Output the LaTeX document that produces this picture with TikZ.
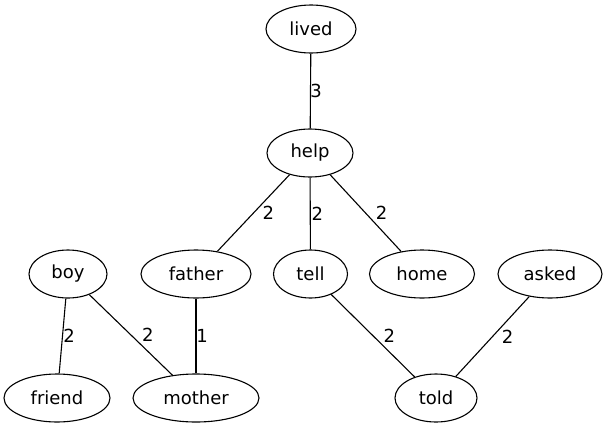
\documentclass[tikz,border=0pt]{standalone}
\usepackage{fontspec}
\setmainfont{DejaVu Sans}
\usetikzlibrary{shapes.geometric}
\tikzset{
  word/.style={ellipse, draw, line width=1.1pt, inner sep=0pt, minimum height=48pt, font=\fontsize{18}{20}\selectfont},
  edge/.style={line width=1.1pt},
  lbl/.style={font=\fontsize{18}{20}\selectfont, inner sep=0pt}
}
\begin{document}
\begin{tikzpicture}[x=1pt,y=-1pt]
\fill[white] (0,0) rectangle (608,429);
\useasboundingbox (0,0) rectangle (608,429);
\node[word, minimum width=90pt] (lived) at (311,29) {lived};
\node[word, minimum width=86pt] (help) at (310,153) {help};
\node[word, minimum width=78pt] (boy) at (68,274) {boy};
\node[word, minimum width=110pt] (father) at (196,274) {father};
\node[word, minimum width=74pt] (tell) at (310.5,274) {tell};
\node[word, minimum width=105pt] (home) at (422,274) {home};
\node[word, minimum width=104pt] (asked) at (550,274) {asked};
\node[word, minimum width=106pt] (friend) at (57,398) {friend};
\node[word, minimum width=126pt] (mother) at (196,398) {mother};
\node[word, minimum width=82pt] (told) at (436,398) {told};
\draw[edge] (lived) -- node[lbl, xshift=5.5pt] {3} (help);
\draw[edge] (help) -- node[lbl, xshift=15pt] {2} (father);
\draw[edge] (help) -- node[lbl, xshift=7pt] {2} (tell);
\draw[edge] (help) -- node[lbl, xshift=16pt] {2} (home);
\draw[edge] (boy) -- node[lbl, xshift=6.5pt] {2} (friend);
\draw[edge] (boy) -- node[lbl, xshift=17pt] {2} (mother);
\draw[edge] (father) -- node[lbl, xshift=6pt] {1} (mother);
\draw[edge] (tell) -- node[lbl, xshift=16.5pt] {2} (told);
\draw[edge] (asked) -- node[lbl, xshift=15pt] {2} (told);
\end{tikzpicture}
\end{document}
